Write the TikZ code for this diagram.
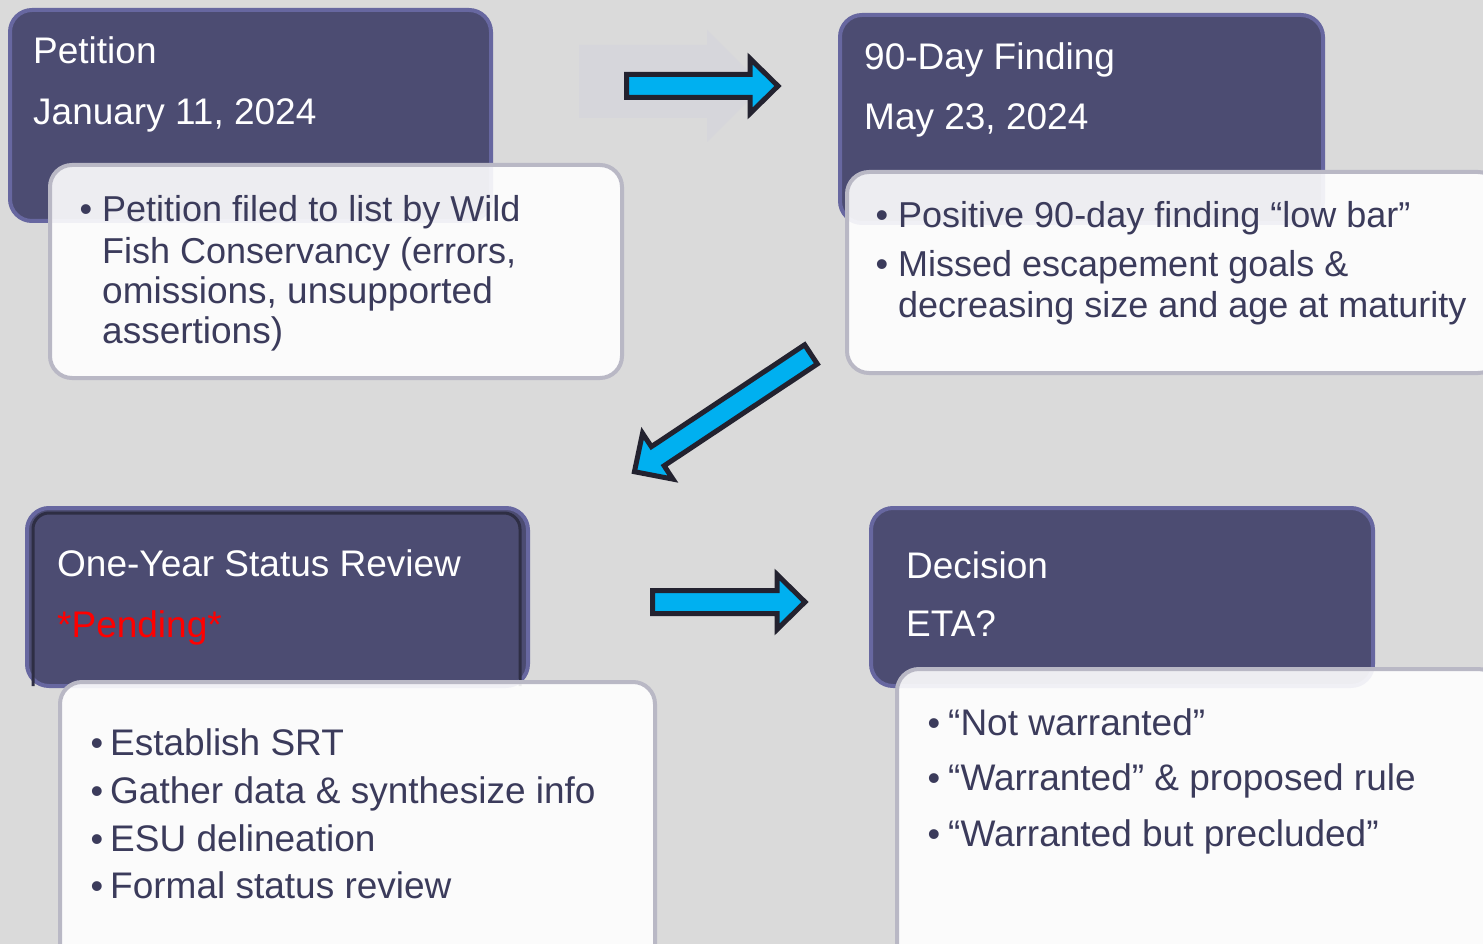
\documentclass[tikz,border=0pt]{standalone}
\usepackage{fontspec}
\setmainfont{Liberation Sans}
\definecolor{bg}{HTML}{DADADA}
\definecolor{darkfill}{HTML}{4C4C72}
\definecolor{darkedge}{HTML}{6767A0}
\definecolor{shadowline}{HTML}{2E2E44}
\definecolor{lightfill}{HTML}{FFFFFF}
\definecolor{lightedge}{HTML}{B9B8C5}
\definecolor{navy}{HTML}{3B3B5B}
\definecolor{arrowblue}{HTML}{00B0F0}
\definecolor{arrowedge}{HTML}{23222F}
\definecolor{ghost}{HTML}{D6D6DB}
\tikzset{
  darkbox/.style={fill=darkfill, draw=darkedge, line width=4pt, rounded corners=22pt},
  lightbox/.style={fill=lightfill, fill opacity=0.9, draw=lightedge, line width=4pt, rounded corners=22pt},
  titletext/.style={anchor=base west, inner sep=0pt, text=white, font=\fontsize{37}{40}\selectfont},
  itemtext/.style={anchor=base west, inner sep=0pt, text=navy, font=\fontsize{37}{40}\selectfont},
  narrowtext/.style={itemtext, font=\fontsize{36}{40}\selectfont},
  bulletdot/.style={anchor=base, inner sep=0pt, text=navy, font=\fontsize{36}{40}\selectfont},
  barrow/.style={fill=arrowblue, draw=arrowedge, line width=5pt, line join=miter},
}
\newcommand{\blockarrow}[4]{%
  \begin{scope}[shift={#1}, rotate=#2]
    \draw[barrow] (0,11.5) -- ({#3-28},11.5) -- ({#3-28},27.5) -- (#3,0)
      -- ({#3-28},-27.5) -- ({#3-28},-11.5) -- (0,-11.5) -- cycle;
    \coordinate (#4) at (#3,0);
  \end{scope}}
\begin{document}
\begin{tikzpicture}[x=1pt,y=-1pt]
\useasboundingbox (0,0) rectangle (1483,944);
\clip (0,0) rectangle (1483,944);
\fill[bg] (-5,-5) rectangle (1490,950);

% ghost arrow
\fill[ghost] (579,45) -- (707,45) -- (707,30) -- (763,86) -- (707,142) -- (707,118) -- (579,118) -- cycle;

% ---------- Petition ----------
\draw[darkbox] (10,10) rectangle (491,221);
\node[titletext] (t1a) at (33,64) {Petition};
\node[titletext] (t1b) at (33,125) {January 11, 2024};
\draw[lightbox] (50,165) rectangle (622,378);
\node[bulletdot] (b1) at (86,222) {•};
\node[narrowtext] (p1a) at (102,222) {Petition filed to list by Wild};
\node[narrowtext] (p1b) at (102,263) {Fish Conservancy (errors,};
\node[itemtext] (p1c) at (102,303) {omissions, unsupported};
\node[itemtext] (p1d) at (102,343) {assertions)};

% ---------- 90-Day Finding ----------
\draw[darkbox] (840,15) rectangle (1323,223);
\node[titletext] (t2a) at (864,70) {90-Day Finding};
\node[titletext] (t2b) at (864,130) {May 23, 2024};
\draw[lightbox] (847,172) rectangle (1500,373);
\node[bulletdot] (b2a) at (882,228) {•};
\node[narrowtext] (p2a) at (898,228) {Positive 90-day finding “low bar”};
\node[bulletdot] (b2b) at (882,276) {•};
\node[narrowtext] (p2b) at (898,276) {Missed escapement goals \&};
\node[narrowtext] (p2c) at (898,317) {decreasing size and age at maturity};

% ---------- One-Year Status Review ----------
\draw[darkbox] (27,508) rectangle (528,686);
\draw[shadowline, line width=3pt, rounded corners=16pt] (33,686) -- (33,513) -- (520,513) -- (520,686);
\node[titletext] (t3a) at (57,576) {One-Year Status Review};
\node[titletext, text=red] (t3b) at (57,637) {*Pending*};
\draw[lightbox] (60,682) rectangle (655,970);
\node[bulletdot] (b3a) at (97,755) {•};
\node[itemtext] (p3a) at (110,755) {Establish SRT};
\node[bulletdot] (b3b) at (97,803) {•};
\node[itemtext] (p3b) at (110,803) {Gather data \& synthesize info};
\node[bulletdot] (b3c) at (97,851) {•};
\node[itemtext] (p3c) at (110,851) {ESU delineation};
\node[bulletdot] (b3d) at (97,898) {•};
\node[itemtext] (p3d) at (110,898) {Formal status review};

% ---------- Decision ----------
\draw[darkbox] (871,508) rectangle (1373,686);
\node[titletext] (t4a) at (906,578) {Decision};
\node[titletext] (t4b) at (906,636) {ETA?};
\draw[lightbox] (897,669) rectangle (1500,970);
\node[bulletdot] (b4a) at (934,735) {•};
\node[itemtext] (p4a) at (948,735) {“Not warranted”};
\node[bulletdot] (b4b) at (934,790) {•};
\node[itemtext] (p4b) at (948,790) {“Warranted” \& proposed rule};
\node[bulletdot] (b4c) at (934,846) {•};
\node[itemtext] (p4c) at (948,846) {“Warranted but precluded”};

% ---------- arrows ----------
\blockarrow{(626.5,86)}{0}{151.5}{a1tip}
\blockarrow{(811,354.4)}{213.6}{212}{a2tip}
\blockarrow{(652.5,602)}{0}{152.5}{a3tip}
\end{tikzpicture}
\end{document}
